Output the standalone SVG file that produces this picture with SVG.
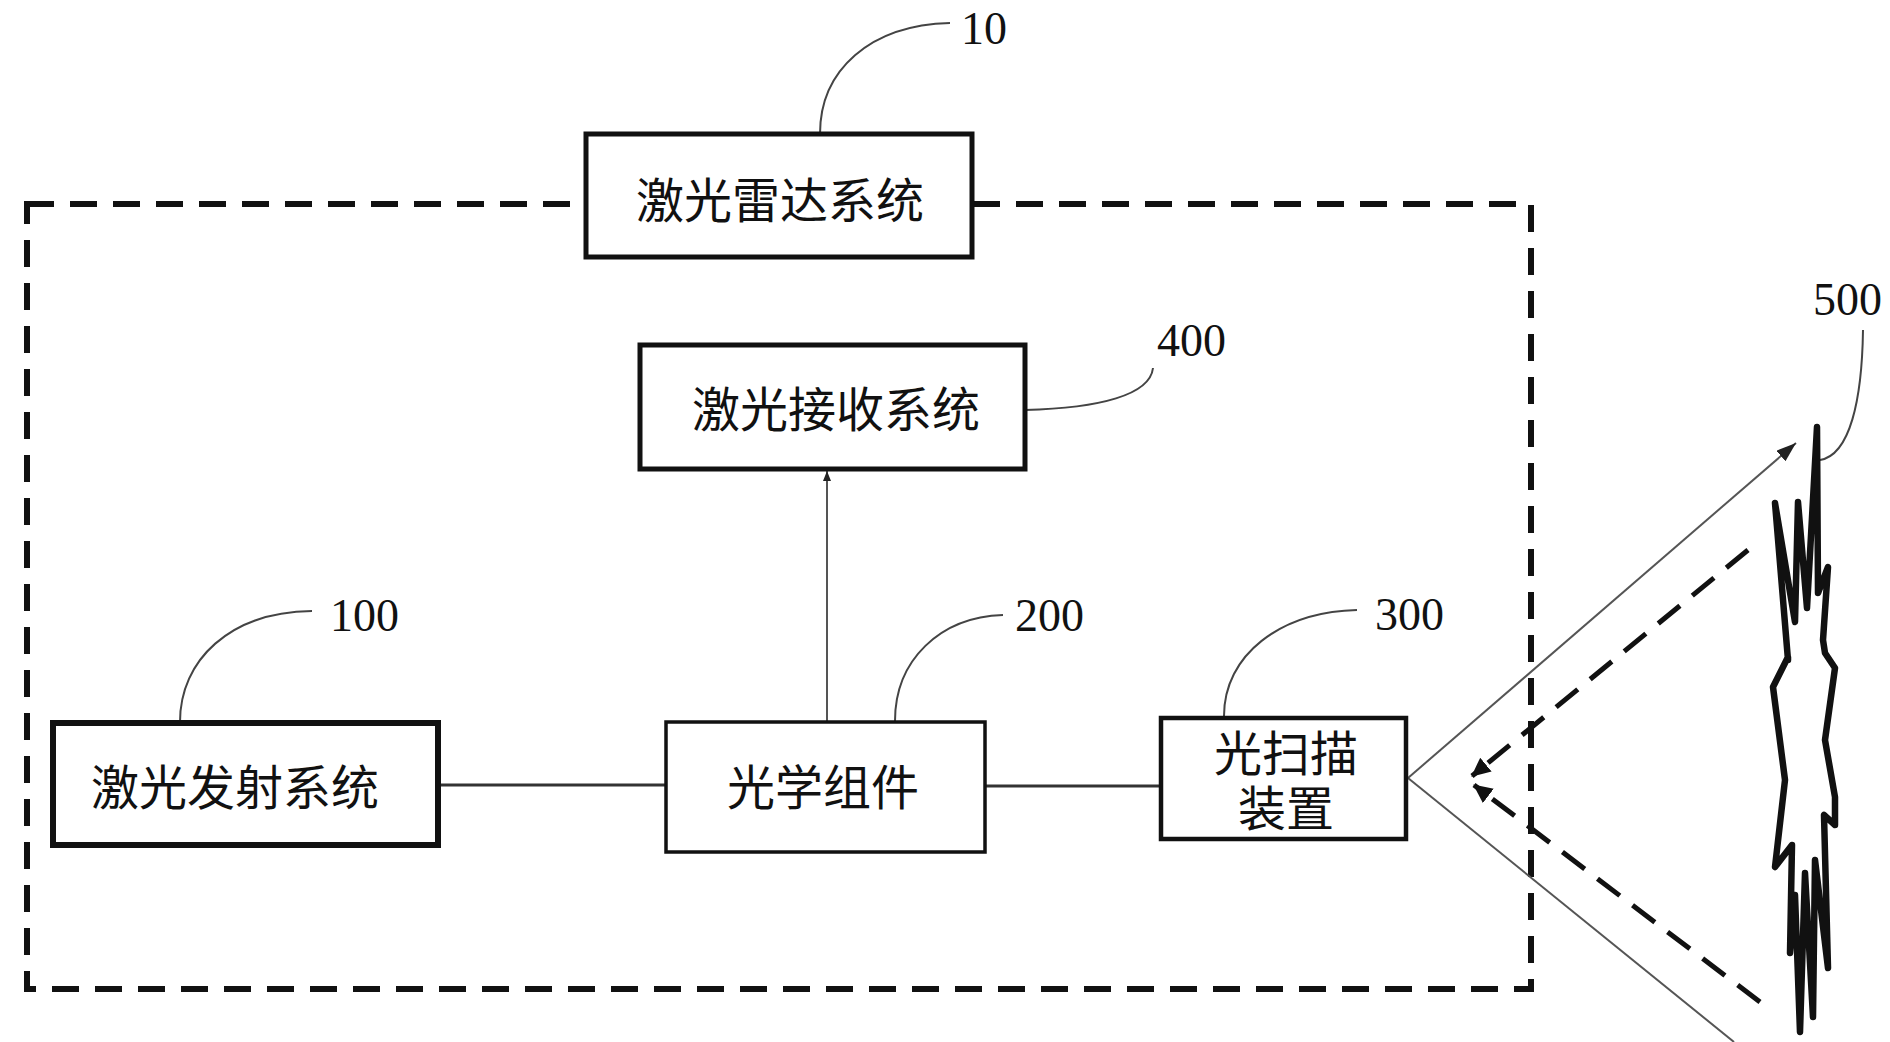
<svg xmlns="http://www.w3.org/2000/svg" width="1890" height="1042" viewBox="0 0 1890 1042">
<style>
  .box { fill: #fff; stroke: #111; }
  .cjk { font-family: "Noto Sans CJK SC", sans-serif; font-size: 48px; fill: #111; text-anchor: middle; }
  .num { font-family: "Liberation Serif", serif; font-size: 46px; fill: #111; }
  .lead { fill: none; stroke: #444; stroke-width: 2; }
  .conn { fill: none; stroke: #333; stroke-width: 3; }
  .thin { fill: none; stroke: #555; stroke-width: 2; }
  .ret { fill: none; stroke: #111; stroke-width: 5; stroke-dasharray: 28 16; }
  .frame { fill: none; stroke: #111; stroke-width: 6; stroke-dasharray: 27 16; }
</style>
<defs>
  <marker id="ah" markerUnits="userSpaceOnUse" markerWidth="22" markerHeight="16" refX="20" refY="7" orient="auto">
    <path d="M0,0 L20,7 L0,14 Z" fill="#222"/>
  </marker>
  <marker id="ahs" markerUnits="userSpaceOnUse" markerWidth="12" markerHeight="10" refX="10" refY="4" orient="auto">
    <path d="M0,0 L10,4 L0,8 Z" fill="#222"/>
  </marker>
  <marker id="ahd" markerUnits="userSpaceOnUse" markerWidth="22" markerHeight="20" refX="18" refY="9" orient="auto">
    <path d="M0,0 L19,9 L0,18 Z" fill="#111"/>
  </marker>
</defs>
<rect width="1890" height="1042" fill="#fff"/>

<g id="frame">
  <rect x="27" y="204" width="1504" height="785" class="frame"/>
</g>

<g id="connectors">
  <line x1="438" y1="785" x2="665" y2="785" class="conn"/>
  <line x1="985" y1="786" x2="1160" y2="786" class="conn"/>
  <line x1="827" y1="722" x2="827" y2="471" class="thin" marker-end="url(#ahs)"/>
  <line x1="1408" y1="778" x2="1796" y2="443" class="thin" marker-end="url(#ah)"/>
  <line x1="1408" y1="778" x2="1734" y2="1042" class="thin"/>
  <line x1="1748" y1="550" x2="1472" y2="776" class="ret" marker-end="url(#ahd)"/>
  <line x1="1760" y1="1002" x2="1474" y2="785" class="ret" marker-end="url(#ahd)"/>
</g>

<g id="leaders">
  <path d="M820,134 C820,70 870,25 950,23" class="lead"/>
  <path d="M1025,410 C1100,408 1150,395 1153,368" class="lead"/>
  <path d="M180,722 C180,660 230,612 312,611" class="lead"/>
  <path d="M895,721 C895,660 940,617 1003,615" class="lead"/>
  <path d="M1224,716 C1224,655 1280,612 1357,610" class="lead"/>
  <path d="M1863,330 C1862,400 1850,455 1820,460" class="lead"/>
</g>

<g id="node-10">
  <rect x="586" y="134" width="386" height="123" class="box" stroke-width="5"/>
  <text x="780" y="218" class="cjk" font-size="49">激光雷达系统</text>
  <text x="961" y="44" class="num">10</text>
</g>

<g id="node-400">
  <rect x="640" y="345" width="385" height="124" class="box" stroke-width="5"/>
  <text x="836" y="427" class="cjk" font-size="49">激光接收系统</text>
  <text x="1157" y="356" class="num">400</text>
</g>

<g id="node-100">
  <rect x="53" y="723" width="385" height="122" class="box" stroke-width="6"/>
  <text x="235" y="805" class="cjk" font-size="49">激光发射系统</text>
  <text x="330" y="631" class="num">100</text>
</g>

<g id="node-200">
  <rect x="666" y="722" width="319" height="130" class="box" stroke-width="3.5"/>
  <text x="823" y="805" class="cjk">光学组件</text>
  <text x="1015" y="631" class="num">200</text>
</g>

<g id="node-300">
  <rect x="1161" y="718" width="245" height="121" class="box" stroke-width="4.5"/>
  <text class="cjk" font-size="47"><tspan x="1286" y="771">光扫描</tspan><tspan x="1286" y="826">装置</tspan></text>
  <text x="1375" y="630" class="num">300</text>
</g>

<g id="node-500">
  <path d="M1788,660 L1775,503 L1795,622 L1798,502 L1807,608 L1817,427 L1818,593 L1828,567 L1823,640 L1825,653 L1835,668 L1825,740 L1835,797 L1835,825 L1824,815 L1828,968 L1815,860 L1813,1017 L1805,873 L1800,1032 L1795,895 L1790,953 L1792,845 L1775,867 L1785,780 L1773,687 L1788,657 Z" fill="none" stroke="#111" stroke-width="6.5" stroke-linejoin="round"/>
  <text x="1813" y="315" class="num">500</text>
</g>
</svg>
